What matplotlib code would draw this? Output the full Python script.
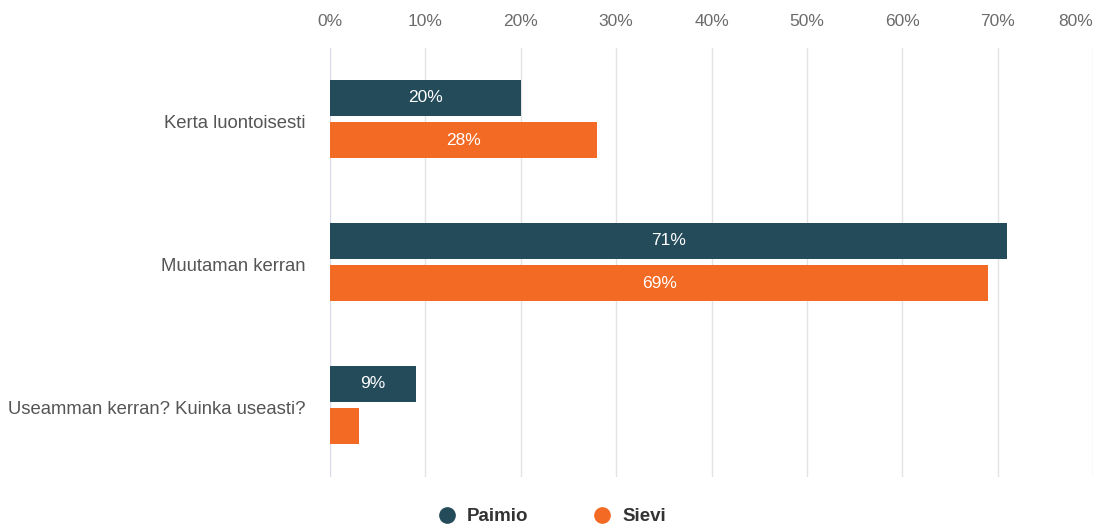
import matplotlib
matplotlib.use("Agg")
import matplotlib.pyplot as plt
import matplotlib.transforms as mtransforms
from matplotlib.lines import Line2D

categories = ["Kerta luontoisesti", "Muutaman kerran", "Useamman kerran? Kuinka useasti?"]
paimio = [20, 71, 9]
sievi = [28, 69, 3]
series_names = ["Paimio", "Sievi"]
colors = ["#244b5a", "#f26a24"]
ticks = [0, 10, 20, 30, 40, 50, 60, 70, 80]

plt.rcParams["font.family"] = ["Liberation Sans", "DejaVu Sans"]

fig = plt.figure(figsize=(10.95, 5.28), dpi=100)
ax = fig.add_axes([0.3014, 0.0975, 0.6968, 0.8125])

pos = list(range(len(categories)))
h = 0.255
off = 0.148
for vals, sign, col in [(paimio, -1, colors[0]), (sievi, 1, colors[1])]:
    ys = [p + sign * off for p in pos]
    bars = ax.barh(ys, vals, height=h, color=col, zorder=3)
    for b, v in zip(bars, vals):
        if v >= 5:
            ax.text(v / 2, b.get_y() + b.get_height() / 2, f"{v}%",
                    ha="center", va="center", color="white", fontsize=12.5, zorder=4)

ax.set_xlim(0, 80)
ax.set_ylim(2.5, -0.5)
ax.set_xticks(ticks)
ax.set_xticklabels([f"{t}%" for t in ticks])
ax.xaxis.tick_top()
ax.tick_params(axis="x", length=0, pad=13.5, labelsize=12.5, labelcolor="#6b6b6b")
# last tick label kept inside the figure
ax.get_xticklabels()[-1].set_horizontalalignment("right")
ax.set_yticks(pos)
ax.set_yticklabels(categories)
ax.tick_params(axis="y", length=0, pad=18, labelsize=13.3, labelcolor="#555555")
# category labels sit a touch below the group centre
shift = mtransforms.ScaledTranslation(0, -2.5 / 100, fig.dpi_scale_trans)
for lbl in ax.get_yticklabels():
    lbl.set_transform(lbl.get_transform() + shift)
ax.grid(axis="x", color="#e3e3e3", linewidth=1, zorder=0)
ax.axvline(0, color="#d5d9ec", linewidth=1.2, zorder=2)
for s in ax.spines.values():
    s.set_visible(False)

handles = [Line2D([], [], marker="o", linestyle="", markersize=11, color=c) for c in colors]
leg = fig.legend(handles, series_names, loc="center", bbox_to_anchor=(0.504, 0.021),
                 ncol=2, frameon=False, handlelength=1.0, handletextpad=0.57,
                 columnspacing=3.45, borderpad=0, borderaxespad=0,
                 prop={"weight": "bold", "size": 13.5})
for t in leg.get_texts():
    t.set_color("#333333")

fig.savefig("out.png", dpi=100)
